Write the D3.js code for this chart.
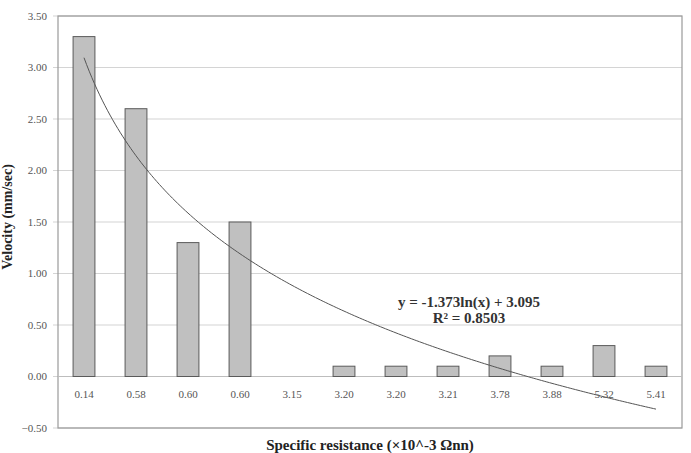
<!DOCTYPE html>
<html><head><meta charset="utf-8">
<script src="https://cdn.jsdelivr.net/npm/d3@7"></script>
<style>body{margin:0;background:#fff}svg{display:block}</style>
</head><body><svg id="c" width="691" height="453"></svg>
<script>
const categories = ["0.14","0.58","0.60","0.60","3.15","3.20","3.20","3.21","3.78","3.88","5.32","5.41"];
const velocities = [3.30,2.60,1.30,1.50,0,0.10,0.10,0.10,0.20,0.10,0.30,0.10];
const yTicks = [-0.5,0,0.5,1,1.5,2,2.5,3,3.5];
const trendA = -1.373, trendB = 3.095;
const equationText = "y = -1.373ln(x) + 3.095";
const r2Text = "R² = 0.8503";

const svg = d3.select("#c");
const L = 58, R = 682, T = 16, B = 428;
const keys = categories.map((c,i)=>i);
const x = d3.scaleBand().domain(keys).range([L,R]).paddingInner(0.58).paddingOuter(0.29);
const xc = i => x(i) + x.bandwidth()/2;
const y = d3.scaleLinear().domain([-0.5,3.5]).range([B,T]);
const font = "'Liberation Serif','Times New Roman',serif";

// gridlines
svg.append("g").selectAll("line").data(yTicks).join("line")
  .attr("x1",L-5).attr("x2",R).attr("y1",d=>y(d)).attr("y2",d=>y(d))
  .attr("stroke","#d4d4d4").attr("stroke-width",1.2);
// plot border
svg.append("rect").attr("x",L).attr("y",T).attr("width",R-L).attr("height",B-T)
  .attr("fill","none").attr("stroke","#9a9a9a").attr("stroke-width",1.2);
// zero line
svg.append("line").attr("x1",L).attr("x2",R).attr("y1",y(0)).attr("y2",y(0))
  .attr("stroke","#bdbdbd").attr("stroke-width",1.2);

// y labels
svg.append("g").selectAll("text").data(yTicks).join("text")
  .attr("x",L-11).attr("y",d=>y(d)).attr("dy","0.35em").attr("text-anchor","end")
  .attr("font-family",font).attr("font-size",11).attr("fill","#555")
  .text(d=>d3.format(".2f")(d));

// bars
svg.append("g").selectAll("rect").data(velocities).join("rect")
  .attr("x",(d,i)=>x(i)).attr("width",x.bandwidth())
  .attr("y",d=>y(d)).attr("height",d=>y(0)-y(d))
  .attr("fill","#c0c0c0").attr("stroke","#5a5a5a").attr("stroke-width",1);

// x labels
svg.append("g").selectAll("text").data(categories).join("text")
  .attr("x",(d,i)=>xc(i)).attr("y",y(0)+21).attr("text-anchor","middle")
  .attr("font-family",font).attr("font-size",11).attr("fill","#555")
  .text(d=>d);

// trendline
const xl = d3.scaleLinear().domain([1,categories.length]).range([xc(0),xc(categories.length-1)]);
const pts = d3.range(1,categories.length+0.001,0.05).map(t=>[xl(t),y(trendA*Math.log(t)+trendB)]);
svg.append("path").attr("d",d3.line()(pts)).attr("fill","none")
  .attr("stroke","#555").attr("stroke-width",1);

// equation
svg.append("text").attr("x",469).attr("y",307).attr("text-anchor","middle")
  .attr("font-family",font).attr("font-size",15).attr("font-weight","bold").attr("fill","#333")
  .text(equationText);
svg.append("text").attr("x",469).attr("y",323).attr("text-anchor","middle")
  .attr("font-family",font).attr("font-size",15).attr("font-weight","bold").attr("fill","#333")
  .text(r2Text);

// axis titles
svg.append("text").attr("transform","translate(12,217) rotate(-90)").attr("text-anchor","middle")
  .attr("font-family",font).attr("font-size",14).attr("font-weight","bold").attr("fill","#222")
  .text("Velocity (mm/sec)");
svg.append("text").attr("x",370).attr("y",450).attr("text-anchor","middle")
  .attr("font-family",font).attr("font-size",15).attr("font-weight","bold").attr("fill","#222")
  .text("Specific resistance (×10^-3 Ωnn)");
</script></body></html>
